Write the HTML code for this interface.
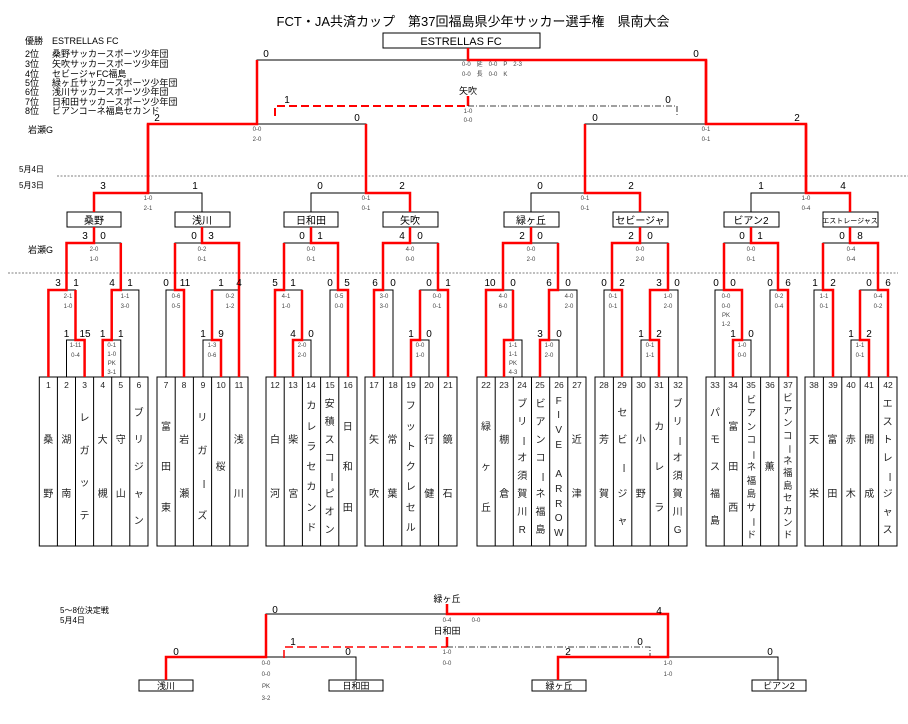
<!DOCTYPE html>
<html><head><meta charset="utf-8">
<style>
body{margin:0;background:#fff;width:908px;height:724px;overflow:hidden;position:relative;font-family:"Liberation Sans","Noto Sans CJK JP",sans-serif;}
svg{position:absolute;left:0;top:0}
.k{stroke:#000;stroke-width:1;fill:none}
.r{stroke:#f00;stroke-width:2.5;fill:none}
.t{font-size:10px;fill:#000;text-anchor:middle}
.s{font-size:6px;fill:#444;text-anchor:middle}
.l{font-size:10px;fill:#000}
.c{position:absolute;top:392px;height:152px;display:flex;flex-direction:column;justify-content:space-evenly;align-items:center;font-size:10px;line-height:10px;color:#222}
.c span{display:block}
.v{transform:rotate(90deg)}
</style></head><body>
<svg width="908" height="724" viewBox="0 0 908 724" font-family="Liberation Sans, Noto Sans CJK JP, sans-serif">
<text x="473" y="26" font-size="13" text-anchor="middle">FCT・JA共済カップ　第37回福島県少年サッカー選手権　県南大会</text>
<rect x="383" y="33" width="157" height="15" class="k"/>
<text x="461" y="45" font-size="11" text-anchor="middle">ESTRELLAS FC</text>
<g class="l" font-size="9">
<text x="25" y="44" font-size="9">優勝</text><text x="52" y="44" font-size="9">ESTRELLAS FC</text>
<text x="25" y="57" font-size="9">2位</text><text x="52" y="57" font-size="9">桑野サッカースポーツ少年団</text>
<text x="25" y="67" font-size="9">3位</text><text x="52" y="67" font-size="9">矢吹サッカースポーツ少年団</text>
<text x="25" y="77" font-size="9">4位</text><text x="52" y="77" font-size="9">セビージャFC福島</text>
<text x="25" y="86" font-size="9">5位</text><text x="52" y="86" font-size="9">緑ヶ丘サッカースポーツ少年団</text>
<text x="25" y="95" font-size="9">6位</text><text x="52" y="95" font-size="9">浅川サッカースポーツ少年団</text>
<text x="25" y="105" font-size="9">7位</text><text x="52" y="105" font-size="9">日和田サッカースポーツ少年団</text>
<text x="25" y="114" font-size="9">8位</text><text x="52" y="114" font-size="9">ビアンコーネ福島セカンド</text>
<text x="28" y="133" font-size="9">岩瀬G</text>
<text x="19" y="172" font-size="8">5月4日</text>
<text x="19" y="188" font-size="8">5月3日</text>
<text x="28" y="253" font-size="9">岩瀬G</text>
<text x="60" y="613" font-size="8">5～8位決定戦</text>
<text x="60" y="623" font-size="8">5月4日</text>
</g>
<line x1="57" y1="176" x2="908" y2="176" stroke="#555" stroke-width="0.8" stroke-dasharray="2,1.5"/>
<line x1="8" y1="273" x2="898" y2="273" stroke="#555" stroke-width="0.8" stroke-dasharray="2,1.5"/>

<g class="k">
<path d="M257 124V60H706V124"/>
<path d="M148 193V124H366V193"/><path d="M585 193V124H806V193"/>
<path d="M94 212V193H202V212"/><path d="M311 212V193H410V212"/><path d="M531 212V193H640V212"/><path d="M751 212V193H850V212"/>
<path d="M66.5 377V340H84.6V377M102.7 377V340H120.8V377M48.4 377V290H75.5V340M111.7 340V290H138.9V377M66.5 290V243H120.8V290M94 243V227"/>
<path d="M203 377V340H221V377M166 377V290H184V377M212 340V290H239V377M175 290V243H239V290M202 243V227"/>
<path d="M293 377V340H311V377M275 377V290H302V340M330 377V290H348V377M284 290V243H338V290M311 243V227"/>
<path d="M411 377V340H429V377M374 377V290H393V377M420 340V290H448V377M383 290V243H438V290M410 243V227"/>
<path d="M504 377V340H522V377M540 377V340H559V377M486 377V290H513V340M549 340V290H577V377M503 290V243H558V290M531 243V227"/>
<path d="M641 377V340H659V377M604 377V290H622V377M650 340V290H678V377M612 290V243H668V290M640 243V227"/>
<path d="M733 377V340H751V377M715 377V290H742V340M770 377V290H788V377M724 290V243H778V290M751 243V227"/>
<path d="M851 377V340H869V377M814 377V290H833V377M860 340V290H888V377M823 290V243H878V290M850 243V227"/>
<rect x="67" y="212" width="54" height="15"/><rect x="175" y="212" width="55" height="15"/>
<rect x="284" y="212" width="54" height="15"/><rect x="383" y="212" width="55" height="15"/>
<rect x="504" y="212" width="55" height="15"/><rect x="613" y="212" width="55" height="15"/>
<rect x="724" y="212" width="55" height="15"/><rect x="823" y="212" width="55" height="15"/>
<rect x="39.3" y="377" width="108.7" height="169"/>
<path d="M57.4 377V546M75.5 377V546M93.6 377V546M111.7 377V546M129.8 377V546"/>
<rect x="157" y="377" width="91" height="169"/>
<path d="M175.2 377V546M193.4 377V546M211.6 377V546M229.8 377V546"/>
<rect x="266" y="377" width="91" height="169"/>
<path d="M284.2 377V546M302.4 377V546M320.6 377V546M338.8 377V546"/>
<rect x="365" y="377" width="92" height="169"/>
<path d="M383.4 377V546M401.8 377V546M420.2 377V546M438.6 377V546"/>
<rect x="477" y="377" width="109" height="169"/>
<path d="M495.2 377V546M513.3 377V546M531.5 377V546M549.7 377V546M567.8 377V546"/>
<rect x="595" y="377" width="92" height="169"/>
<path d="M613.4 377V546M631.8 377V546M650.2 377V546M668.6 377V546"/>
<rect x="706" y="377" width="91" height="169"/>
<path d="M724.2 377V546M742.4 377V546M760.6 377V546M778.8 377V546"/>
<rect x="805" y="377" width="92" height="169"/>
<path d="M823.4 377V546M841.8 377V546M860.2 377V546M878.6 377V546"/>
<path d="M166 680V657H356V680M558 680V657H778V680M266 657V614H668V657"/>
<rect x="139" y="680" width="54" height="11"/><rect x="329" y="680" width="54" height="11"/>
<rect x="532" y="680" width="54" height="11"/><rect x="752" y="680" width="54" height="11"/>
</g>
<path d="M275 116V106H468" stroke="#f00" stroke-width="2" fill="none" stroke-dasharray="8,4"/>
<path d="M468 96V106" class="r"/>
<path d="M468 106H677V116" stroke="#000" stroke-width="0.8" fill="none" stroke-dasharray="6,2,1,2"/>
<path d="M284 658V647H447" stroke="#f00" stroke-width="1.5" fill="none" stroke-dasharray="8,4"/>
<path d="M447 637V647" class="r"/>
<path d="M447 647H650V657" stroke="#000" stroke-width="0.8" fill="none" stroke-dasharray="6,2,1,2"/>

<g class="r">
<path d="M706 124V60H468V48"/>
<path d="M148 193V124H257V60"/><path d="M806 193V124H706V60"/>
<path d="M94 212V193H148V124"/><path d="M410 212V193H366V124"/><path d="M640 212V193H585V124"/><path d="M850 212V193H806V124"/>
<path d="M84.6 377V340H75.5V290M102.7 377V340H111.7V290M48.4 377V290H66.5V243M111.7 340V290H120.8V243M66.5 290V243H94V227"/>
<path d="M221 377V340H212V290M184 377V290H175V243M239 377V243H202V227"/>
<path d="M293 377V340H302V290M275 377V290H284V243M348 377V290H338V243M338 290V243H311V227"/>
<path d="M411 377V340H420V290M374 377V290H383V243M448 377V290H438V243M383 290V243H410V227"/>
<path d="M504 377V340H513V290M540 377V340H549V290M486 377V290H503V243M549 340V290H558V243M503 290V243H531V227"/>
<path d="M659 377V340H650V290M622 377V290H612V243M650 340V290H668V243M612 290V243H640V227"/>
<path d="M733 377V340H742V290M742 340V290H724V243M788 377V290H778V243M778 290V243H751V227"/>
<path d="M833 377V290H823V243M869 377V340H860V290M888 377V290H878V243M878 290V243H850V227"/>
<path d="M166 680V657H266V614"/>
<path d="M558 680V657H668V614H447V604"/>
</g>

<g class="t">
<text x="94" y="224">桑野</text><text x="202" y="224">浅川</text><text x="311" y="224">日和田</text><text x="410" y="224">矢吹</text>
<text x="531" y="224">緑ヶ丘</text><text x="640" y="224">セビージャ</text><text x="751" y="224">ビアン2</text><text x="850" y="223" font-size="7">エストレージャス</text>
<text x="468" y="94" font-size="9">矢吹</text>
<text x="447" y="602" font-size="9">緑ヶ丘</text><text x="447" y="634" font-size="9">日和田</text>
<text x="166" y="689" font-size="9">浅川</text><text x="356" y="689" font-size="9">日和田</text>
<text x="559" y="689" font-size="9">緑ヶ丘</text><text x="779" y="689" font-size="9">ビアン2</text>
<text x="266" y="57">0</text><text x="696" y="57">0</text>
<text x="287" y="103">1</text><text x="668" y="103">0</text>
<text x="157" y="121">2</text><text x="357" y="121">0</text><text x="595" y="121">0</text><text x="797" y="121">2</text>
<text x="103" y="189">3</text><text x="195" y="189">1</text><text x="320" y="189">0</text><text x="402" y="189">2</text>
<text x="540" y="189">0</text><text x="631" y="189">2</text><text x="761" y="189">1</text><text x="843" y="189">4</text>
<text x="85" y="239">3</text><text x="103" y="239">0</text><text x="194" y="239">0</text><text x="211" y="239">3</text>
<text x="302" y="239">0</text><text x="320" y="239">1</text><text x="402" y="239">4</text><text x="420" y="239">0</text>
<text x="522" y="239">2</text><text x="540" y="239">0</text><text x="631" y="239">2</text><text x="650" y="239">0</text>
<text x="742" y="239">0</text><text x="760" y="239">1</text><text x="842" y="239">0</text><text x="860" y="239">8</text>
<text x="58" y="286">3</text><text x="76" y="286">1</text><text x="112" y="286">4</text><text x="130" y="286">1</text>
<text x="166" y="286">0</text><text x="185" y="286">11</text><text x="221" y="286">1</text><text x="239" y="286">4</text>
<text x="275" y="286">5</text><text x="293" y="286">1</text><text x="330" y="286">0</text><text x="347" y="286">5</text>
<text x="375" y="286">6</text><text x="393" y="286">0</text><text x="429" y="286">0</text><text x="448" y="286">1</text>
<text x="490" y="286">10</text><text x="513" y="286">0</text><text x="549" y="286">6</text><text x="568" y="286">0</text>
<text x="604" y="286">0</text><text x="622" y="286">2</text><text x="659" y="286">3</text><text x="677" y="286">0</text>
<text x="716" y="286">0</text><text x="733" y="286">0</text><text x="770" y="286">0</text><text x="788" y="286">6</text>
<text x="815" y="286">1</text><text x="833" y="286">2</text><text x="869" y="286">0</text><text x="888" y="286">6</text>
<text x="66.5" y="337">1</text><text x="85" y="337">15</text><text x="102.7" y="337">1</text><text x="120.8" y="337">1</text>
<text x="203" y="337">1</text><text x="221" y="337">9</text>
<text x="293" y="337">4</text><text x="311" y="337">0</text>
<text x="411" y="337">1</text><text x="429" y="337">0</text>
<text x="540" y="337">3</text><text x="559" y="337">0</text>
<text x="641" y="337">1</text><text x="659" y="337">2</text>
<text x="733" y="337">1</text><text x="751" y="337">0</text>
<text x="851" y="337">1</text><text x="869" y="337">2</text>
<text x="275" y="613">0</text><text x="659" y="614">4</text>
<text x="293" y="645">1</text><text x="640" y="645">0</text>
<text x="176" y="655">0</text><text x="348" y="655">0</text><text x="568" y="655">2</text><text x="770" y="655">0</text>
</g>
<g class="s">
<text x="462" y="66" text-anchor="start">0-0　延　0-0　P　2-3</text>
<text x="462" y="76" text-anchor="start">0-0　長　0-0　K</text>
<text x="468" y="113">1-0</text><text x="468" y="122">0-0</text>
<text x="257" y="131">0-0</text><text x="257" y="141">2-0</text>
<text x="706" y="131">0-1</text><text x="706" y="141">0-1</text>
<text x="148" y="200">1-0</text><text x="148" y="210">2-1</text>
<text x="366" y="200">0-1</text><text x="366" y="210">0-1</text>
<text x="585" y="200">0-1</text><text x="585" y="210">0-1</text>
<text x="806" y="200">1-0</text><text x="806" y="210">0-4</text>
<text x="94" y="251">2-0</text><text x="94" y="261">1-0</text>
<text x="202" y="251">0-2</text><text x="202" y="261">0-1</text>
<text x="311" y="251">0-0</text><text x="311" y="261">0-1</text>
<text x="410" y="251">4-0</text><text x="410" y="261">0-0</text>
<text x="531" y="251">0-0</text><text x="531" y="261">2-0</text>
<text x="640" y="251">0-0</text><text x="640" y="261">2-0</text>
<text x="751" y="251">0-0</text><text x="751" y="261">0-1</text>
<text x="851" y="251">0-4</text><text x="851" y="261">0-4</text>
<text x="68" y="298">2-1</text><text x="68" y="308">1-0</text>
<text x="125" y="298">1-1</text><text x="125" y="308">3-0</text>
<text x="176" y="298">0-6</text><text x="176" y="308">0-5</text>
<text x="230" y="298">0-2</text><text x="230" y="308">1-2</text>
<text x="286" y="298">4-1</text><text x="286" y="308">1-0</text>
<text x="339" y="298">0-5</text><text x="339" y="308">0-0</text>
<text x="384" y="298">3-0</text><text x="384" y="308">3-0</text>
<text x="437" y="298">0-0</text><text x="437" y="308">0-1</text>
<text x="503" y="298">4-0</text><text x="503" y="308">6-0</text>
<text x="569" y="298">4-0</text><text x="569" y="308">2-0</text>
<text x="613" y="298">0-1</text><text x="613" y="308">0-1</text>
<text x="668" y="298">1-0</text><text x="668" y="308">2-0</text>
<text x="726" y="298">0-0</text><text x="726" y="308">0-0</text><text x="726" y="317">PK</text><text x="726" y="326">1-2</text>
<text x="779" y="298">0-2</text><text x="779" y="308">0-4</text>
<text x="824" y="298">1-1</text><text x="824" y="308">0-1</text>
<text x="878" y="298">0-4</text><text x="878" y="308">0-2</text>
<text x="75.5" y="347">1-11</text><text x="75.5" y="357">0-4</text>
<text x="111.7" y="347">0-1</text><text x="111.7" y="356">1-0</text><text x="111.7" y="365">PK</text><text x="111.7" y="374">3-1</text>
<text x="212" y="347">1-3</text><text x="212" y="357">0-6</text>
<text x="302" y="347">2-0</text><text x="302" y="357">2-0</text>
<text x="420" y="347">0-0</text><text x="420" y="357">1-0</text>
<text x="513" y="347">1-1</text><text x="513" y="356">1-1</text><text x="513" y="365">PK</text><text x="513" y="374">4-3</text>
<text x="549" y="347">1-0</text><text x="549" y="357">2-0</text>
<text x="650" y="347">0-1</text><text x="650" y="357">1-1</text>
<text x="742" y="347">1-0</text><text x="742" y="357">0-0</text>
<text x="860" y="347">1-1</text><text x="860" y="357">0-1</text>
<text x="447" y="622">0-4</text><text x="476" y="622">0-0</text>
<text x="447" y="654">1-0</text><text x="447" y="665">0-0</text>
<text x="266" y="665">0-0</text><text x="266" y="676">0-0</text><text x="266" y="688">PK</text><text x="266" y="700">3-2</text>
<text x="668" y="665">1-0</text><text x="668" y="676">1-0</text>
</g>
<g font-size="8.5" fill="#222" text-anchor="middle">
<text x="48.4" y="388">1</text><text x="66.5" y="388">2</text><text x="84.6" y="388">3</text><text x="102.7" y="388">4</text><text x="120.8" y="388">5</text><text x="138.9" y="388">6</text>
<text x="166" y="388">7</text><text x="184" y="388">8</text><text x="203" y="388">9</text><text x="221" y="388">10</text><text x="239" y="388">11</text>
<text x="275" y="388">12</text><text x="293" y="388">13</text><text x="311" y="388">14</text><text x="330" y="388">15</text><text x="348" y="388">16</text>
<text x="374" y="388">17</text><text x="393" y="388">18</text><text x="411" y="388">19</text><text x="429" y="388">20</text><text x="448" y="388">21</text>
<text x="486" y="388">22</text><text x="504" y="388">23</text><text x="522" y="388">24</text><text x="540" y="388">25</text><text x="559" y="388">26</text><text x="577" y="388">27</text>
<text x="604" y="388">28</text><text x="622" y="388">29</text><text x="641" y="388">30</text><text x="659" y="388">31</text><text x="678" y="388">32</text>
<text x="715" y="388">33</text><text x="733" y="388">34</text><text x="751" y="388">35</text><text x="770" y="388">36</text><text x="788" y="388">37</text>
<text x="814" y="388">38</text><text x="833" y="388">39</text><text x="851" y="388">40</text><text x="869" y="388">41</text><text x="888" y="388">42</text>
</g>
</svg>

<div class="c" style="left:39.3px;width:18px"><span>桑</span><span>野</span></div>
<div class="c" style="left:57.4px;width:18px"><span>湖</span><span>南</span></div>
<div class="c" style="left:75.5px;width:18px"><span>レ</span><span>ガ</span><span>ッ</span><span>テ</span></div>
<div class="c" style="left:93.6px;width:18px"><span>大</span><span>槻</span></div>
<div class="c" style="left:111.7px;width:18px"><span>守</span><span>山</span></div>
<div class="c" style="left:129.8px;width:18px"><span>ブ</span><span>リ</span><span>ジ</span><span>ャ</span><span>ン</span></div>
<div class="c" style="left:157px;width:18px"><span>富</span><span>田</span><span>東</span></div>
<div class="c" style="left:175.2px;width:18px"><span>岩</span><span>瀬</span></div>
<div class="c" style="left:193.4px;width:18px"><span>リ</span><span>ガ</span><span class="v">ー</span><span>ズ</span></div>
<div class="c" style="left:211.6px;width:18px"><span>桜</span></div>
<div class="c" style="left:229.8px;width:18px"><span>浅</span><span>川</span></div>
<div class="c" style="left:266px;width:18px"><span>白</span><span>河</span></div>
<div class="c" style="left:284.2px;width:18px"><span>柴</span><span>宮</span></div>
<div class="c" style="left:302.4px;width:18px"><span>カ</span><span>レ</span><span>ラ</span><span>セ</span><span>カ</span><span>ン</span><span>ド</span></div>
<div class="c" style="left:320.6px;width:18px"><span>安</span><span>積</span><span>ス</span><span>コ</span><span class="v">ー</span><span>ピ</span><span>オ</span><span>ン</span></div>
<div class="c" style="left:338.8px;width:18px"><span>日</span><span>和</span><span>田</span></div>
<div class="c" style="left:365px;width:18px"><span>矢</span><span>吹</span></div>
<div class="c" style="left:383.4px;width:18px"><span>常</span><span>葉</span></div>
<div class="c" style="left:401.8px;width:18px"><span>フ</span><span>ッ</span><span>ト</span><span>ク</span><span>レ</span><span>セ</span><span>ル</span></div>
<div class="c" style="left:420.2px;width:18px"><span>行</span><span>健</span></div>
<div class="c" style="left:438.6px;width:18px"><span>鏡</span><span>石</span></div>
<div class="c" style="left:477px;width:18px"><span>緑</span><span>ヶ</span><span>丘</span></div>
<div class="c" style="left:495.2px;width:18px"><span>棚</span><span>倉</span></div>
<div class="c" style="left:513.3px;width:18px"><span>ブ</span><span>リ</span><span class="v">ー</span><span>オ</span><span>須</span><span>賀</span><span>川</span><span>R</span></div>
<div class="c" style="left:531.5px;width:18px"><span>ビ</span><span>ア</span><span>ン</span><span>コ</span><span class="v">ー</span><span>ネ</span><span>福</span><span>島</span></div>
<div class="c" style="left:549.7px;width:18px"><span>F</span><span>I</span><span>V</span><span>E</span><span>&nbsp;</span><span>A</span><span>R</span><span>R</span><span>O</span><span>W</span></div>
<div class="c" style="left:567.8px;width:18px"><span>近</span><span>津</span></div>
<div class="c" style="left:595px;width:18px"><span>芳</span><span>賀</span></div>
<div class="c" style="left:613.4px;width:18px"><span>セ</span><span>ビ</span><span class="v">ー</span><span>ジ</span><span>ャ</span></div>
<div class="c" style="left:631.8px;width:18px"><span>小</span><span>野</span></div>
<div class="c" style="left:650.2px;width:18px"><span>カ</span><span>レ</span><span>ラ</span></div>
<div class="c" style="left:668.6px;width:18px"><span>ブ</span><span>リ</span><span class="v">ー</span><span>オ</span><span>須</span><span>賀</span><span>川</span><span>G</span></div>
<div class="c" style="left:706px;width:18px"><span>パ</span><span>モ</span><span>ス</span><span>福</span><span>島</span></div>
<div class="c" style="left:724.2px;width:18px"><span>富</span><span>田</span><span>西</span></div>
<div class="c" style="left:742.4px;width:18px;font-size:9.5px"><span>ビ</span><span>ア</span><span>ン</span><span>コ</span><span class="v">ー</span><span>ネ</span><span>福</span><span>島</span><span>サ</span><span class="v">ー</span><span>ド</span></div>
<div class="c" style="left:760.6px;width:18px"><span>薫</span></div>
<div class="c" style="left:778.8px;width:18px;font-size:9.5px"><span>ビ</span><span>ア</span><span>ン</span><span>コ</span><span class="v">ー</span><span>ネ</span><span>福</span><span>島</span><span>セ</span><span>カ</span><span>ン</span><span>ド</span></div>
<div class="c" style="left:805px;width:18px"><span>天</span><span>栄</span></div>
<div class="c" style="left:823.4px;width:18px"><span>富</span><span>田</span></div>
<div class="c" style="left:841.8px;width:18px"><span>赤</span><span>木</span></div>
<div class="c" style="left:860.2px;width:18px"><span>開</span><span>成</span></div>
<div class="c" style="left:878.6px;width:18px"><span>エ</span><span>ス</span><span>ト</span><span>レ</span><span class="v">ー</span><span>ジ</span><span>ャ</span><span>ス</span></div>
</body></html>
